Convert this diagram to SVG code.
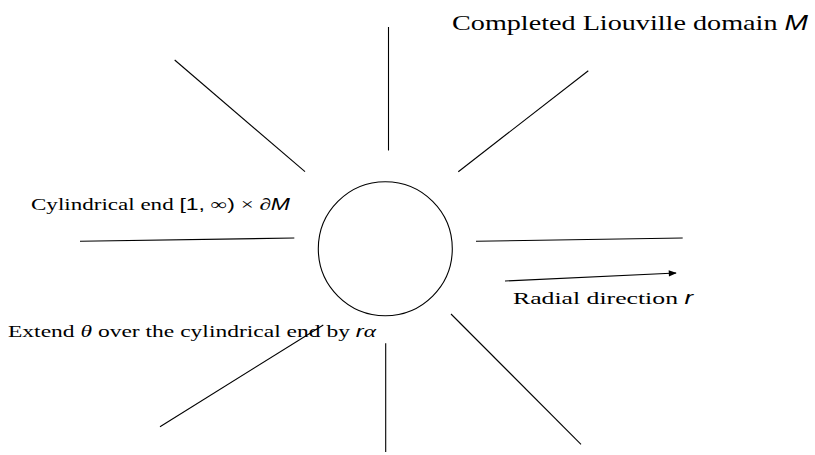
<svg xmlns="http://www.w3.org/2000/svg" width="815" height="455" viewBox="0 0 815 455">
<style>
.ln{stroke:#000;stroke-width:1.1;fill:none}
.t{font-family:"Liberation Serif","DejaVu Serif",serif;fill:#000}
.m{font-family:"Liberation Sans","DejaVu Sans",sans-serif;font-style:italic}
.s{font-family:"Liberation Sans","DejaVu Sans",sans-serif}
</style>
<defs>
<marker id="ah" viewBox="0 0 10 10" refX="9" refY="5" markerWidth="10" markerHeight="8" markerUnits="userSpaceOnUse" orient="auto">
<path d="M0,1 L10,5 L0,9 Z" fill="#000"/>
</marker>
</defs>
<rect width="815" height="455" fill="#fff"/>
<g id="domain">
<circle cx="385.3" cy="248.7" r="67" class="ln"/>
</g>
<g id="connectors">
<line x1="388.5" y1="27" x2="388.5" y2="150.5" class="ln"/>
<line x1="174.7" y1="60" x2="305" y2="171.7" class="ln"/>
<line x1="588.3" y1="70.7" x2="458.3" y2="171.7" class="ln"/>
<line x1="80" y1="241.3" x2="294.3" y2="238" class="ln"/>
<line x1="476" y1="241.3" x2="682.7" y2="238" class="ln"/>
<line x1="160" y1="426.7" x2="323.3" y2="325" class="ln"/>
<line x1="385.7" y1="343.3" x2="385.7" y2="452" class="ln"/>
<line x1="451" y1="314" x2="581" y2="444.3" class="ln"/>
<line x1="505" y1="281" x2="676" y2="273" class="ln" marker-end="url(#ah)"/>
</g>
<g id="labels">
<text class="t" x="452" y="30" font-size="22" textLength="356" lengthAdjust="spacingAndGlyphs">Completed Liouville domain <tspan class="m">M</tspan></text>
<text class="t" x="31" y="210" font-size="16.5" textLength="259" lengthAdjust="spacingAndGlyphs">Cylindrical end <tspan class="s">[1,</tspan> ∞<tspan class="s">)</tspan> × ∂<tspan class="m">M</tspan></text>
<text class="t" x="8" y="337" font-size="16.5" textLength="368" lengthAdjust="spacingAndGlyphs">Extend <tspan font-style="italic">θ</tspan> over the cylindrical end by <tspan class="m">r</tspan><tspan font-style="italic">α</tspan></text>
<text class="t" x="513" y="304" font-size="17.5" textLength="180" lengthAdjust="spacingAndGlyphs">Radial direction <tspan class="m">r</tspan></text>
</g>
</svg>
